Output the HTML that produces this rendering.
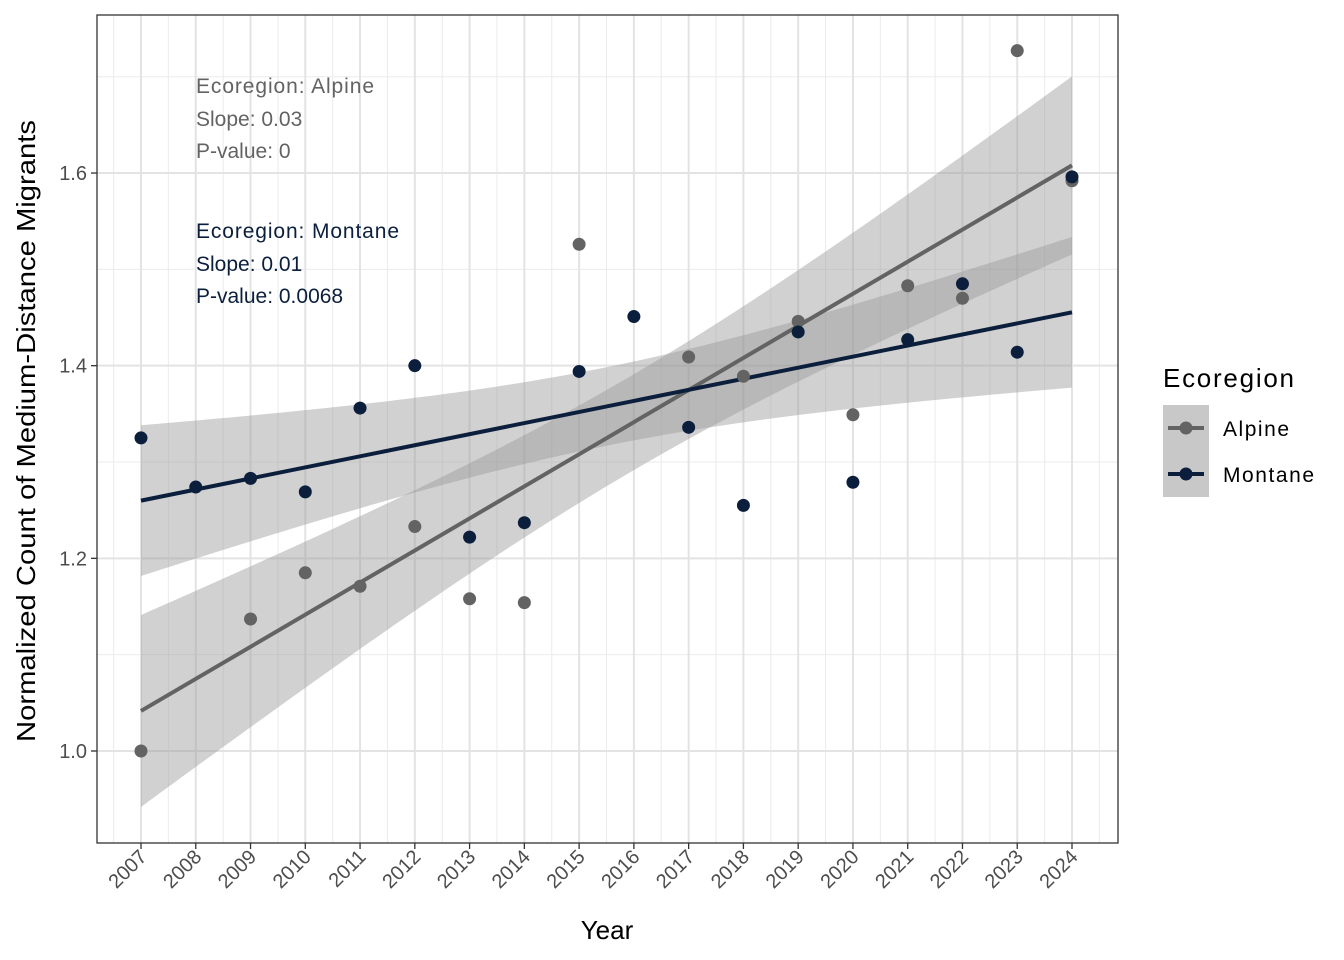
<!DOCTYPE html>
<html><head><meta charset="utf-8"><style>
body{margin:0;background:#fff;font-family:"Liberation Sans",Arial,sans-serif}
svg{display:block}
</style></head><body>
<svg id="chart" width="1344" height="960" xmlns="http://www.w3.org/2000/svg">
<g id="grid"></g><g id="bands"></g><g id="lines"></g><g id="pts"></g><g id="axes"></g><g id="legend"></g>
</svg>
<script>
const years=[2007,2008,2009,2010,2011,2012,2013,2014,2015,2016,2017,2018,2019,2020,2021,2022,2023,2024];
const alpine=[1.000,null,1.137,1.185,1.171,1.233,1.158,1.154,1.526,null,1.409,1.389,1.446,1.349,1.483,1.470,1.727,1.592];
const montane=[1.325,1.274,1.283,1.269,1.356,1.400,1.222,1.237,1.394,1.451,1.336,1.255,1.435,1.279,1.427,1.485,1.414,1.596];
const yTicks=[1.0,1.2,1.4,1.6];
const yMinor=[1.1,1.3,1.5,1.7];
const ALP="#636363",MON="#0b1f3d";
const NS="http://www.w3.org/2000/svg";
const P={l:97,r:1118,t:15,b:843};
const x=v=>141+(v-2007)*(1072-141)/17;
const y=v=>751-(v-1.0)*963.3;
function mk(tag,attrs,parent,text){const e=document.createElementNS(NS,tag);for(const k in attrs)e.setAttribute(k,attrs[k]);if(text!==undefined)e.textContent=text;document.getElementById(parent).appendChild(e);return e;}
yMinor.forEach(v=>{const e=mk('line',{x1:P.l,x2:P.r,y1:y(v),y2:y(v),stroke:'#ebebeb','stroke-width':1},'grid');});
for(let i=0;i<=years.length;i++){const v=2006.5+i;const e=mk('line',{x1:x(v),x2:x(v),y1:P.t,y2:P.b,stroke:'#ebebeb','stroke-width':1},'grid');}
yTicks.forEach(v=>{const e=mk('line',{x1:P.l,x2:P.r,y1:y(v),y2:y(v),stroke:'#e3e3e3','stroke-width':2},'grid');});
years.forEach(v=>{const e=mk('line',{x1:x(v),x2:x(v),y1:P.t,y2:P.b,stroke:'#e3e3e3','stroke-width':2},'grid');});
function fit(ys){const xs=[],vs=[];years.forEach((v,i)=>{if(ys[i]!==null){xs.push(v);vs.push(ys[i]);}});const n=xs.length,mx=xs.reduce((a,b)=>a+b)/n,my=vs.reduce((a,b)=>a+b)/n;let sxx=0,sxy=0;xs.forEach((v,i)=>{sxx+=(v-mx)**2;sxy+=(v-mx)*(vs[i]-my);});const b=sxy/sxx,a=my-b*mx;let sse=0;xs.forEach((v,i)=>{sse+=(vs[i]-a-b*v)**2;});const s=Math.sqrt(sse/(n-2));return {a,b,s,mx,sxx,n};}
function draw(ys,col,name){const f=fit(ys),t=f.n-2<=14?2.145:2.12;const up=[],lo=[];for(let k=0;k<=80;k++){const v=2007+17*k/80;const yh=f.a+f.b*v;const se=f.s*Math.sqrt(1/f.n+(v-f.mx)**2/f.sxx);up.push(x(v)+','+y(yh+t*se));lo.unshift(x(v)+','+y(yh-t*se));}
const band=mk('polygon',{points:up.concat(lo).join(' '),fill:'#999','fill-opacity':0.45},'bands');
const ln=mk('line',{x1:x(2007),y1:y(f.a+f.b*2007),x2:x(2024),y2:y(f.a+f.b*2024),stroke:col,'stroke-width':4},'lines');}
draw(alpine,ALP,'alpine');draw(montane,MON,'montane');
years.forEach((v,i)=>{if(alpine[i]===null)return;const c=mk('circle',{cx:x(v),cy:y(alpine[i]),r:6.5,fill:ALP},'pts');});
years.forEach((v,i)=>{const c=mk('circle',{cx:x(v),cy:y(montane[i]),r:6.5,fill:MON},'pts');});
const br=mk('rect',{x:P.l,y:P.t,width:P.r-P.l,height:P.b-P.t,fill:'none',stroke:'#333','stroke-width':1.3},'axes');
yTicks.forEach(v=>{mk('line',{x1:P.l-6,x2:P.l,y1:y(v),y2:y(v),stroke:'#333','stroke-width':1.3},'axes');const t=mk('text',{x:P.l-10,y:y(v)+7,'text-anchor':'end','font-size':20,fill:'#4d4d4d'},'axes',v.toFixed(1));});
years.forEach(v=>{mk('line',{x1:x(v),x2:x(v),y1:P.b,y2:P.b+6,stroke:'#333','stroke-width':1.3},'axes');const t=mk('text',{x:x(v)+7,y:P.b+15,'text-anchor':'end','font-size':20,fill:'#4d4d4d',transform:`rotate(-45 ${x(v)+7} ${P.b+15})`},'axes',String(v));});
</script>
<script>
(function(){const g=document.getElementById('axes');
g.insertAdjacentHTML('beforeend',`
<text x="607" y="939" text-anchor="middle" font-size="26" fill="#000">Year</text>
<text transform="translate(35 431) rotate(-90)" text-anchor="middle" font-size="26" fill="#000" textLength="622" lengthAdjust="spacingAndGlyphs">Normalized Count of Medium-Distance Migrants</text>
<g font-size="21" fill="#636363">
<text x="196" y="93" textLength="178">Ecoregion: Alpine</text><text x="196" y="126">Slope: 0.03</text><text x="196" y="158">P-value: 0</text></g>
<g font-size="21" fill="#0b1f3d">
<text x="196" y="238" textLength="203">Ecoregion: Montane</text><text x="196" y="271">Slope: 0.01</text><text x="196" y="303">P-value: 0.0068</text></g>`);
document.getElementById('legend').insertAdjacentHTML('beforeend',`
<text x="1163" y="387" font-size="26" fill="#000" textLength="131">Ecoregion</text>
<g><rect x="1163" y="405" width="46" height="46" fill="#c8c8c8"/><line x1="1168" x2="1204" y1="428" y2="428" stroke="#636363" stroke-width="4"/><circle cx="1186" cy="428" r="6.5" fill="#636363"/><text x="1223" y="436" font-size="21" textLength="66">Alpine</text></g>
<g><rect x="1163" y="451" width="46" height="46" fill="#c8c8c8"/><line x1="1168" x2="1204" y1="474" y2="474" stroke="#0b1f3d" stroke-width="4"/><circle cx="1186" cy="474" r="6.5" fill="#0b1f3d"/><text x="1223" y="482" font-size="21" textLength="91">Montane</text></g>`);
})();
</script>
</body></html>
